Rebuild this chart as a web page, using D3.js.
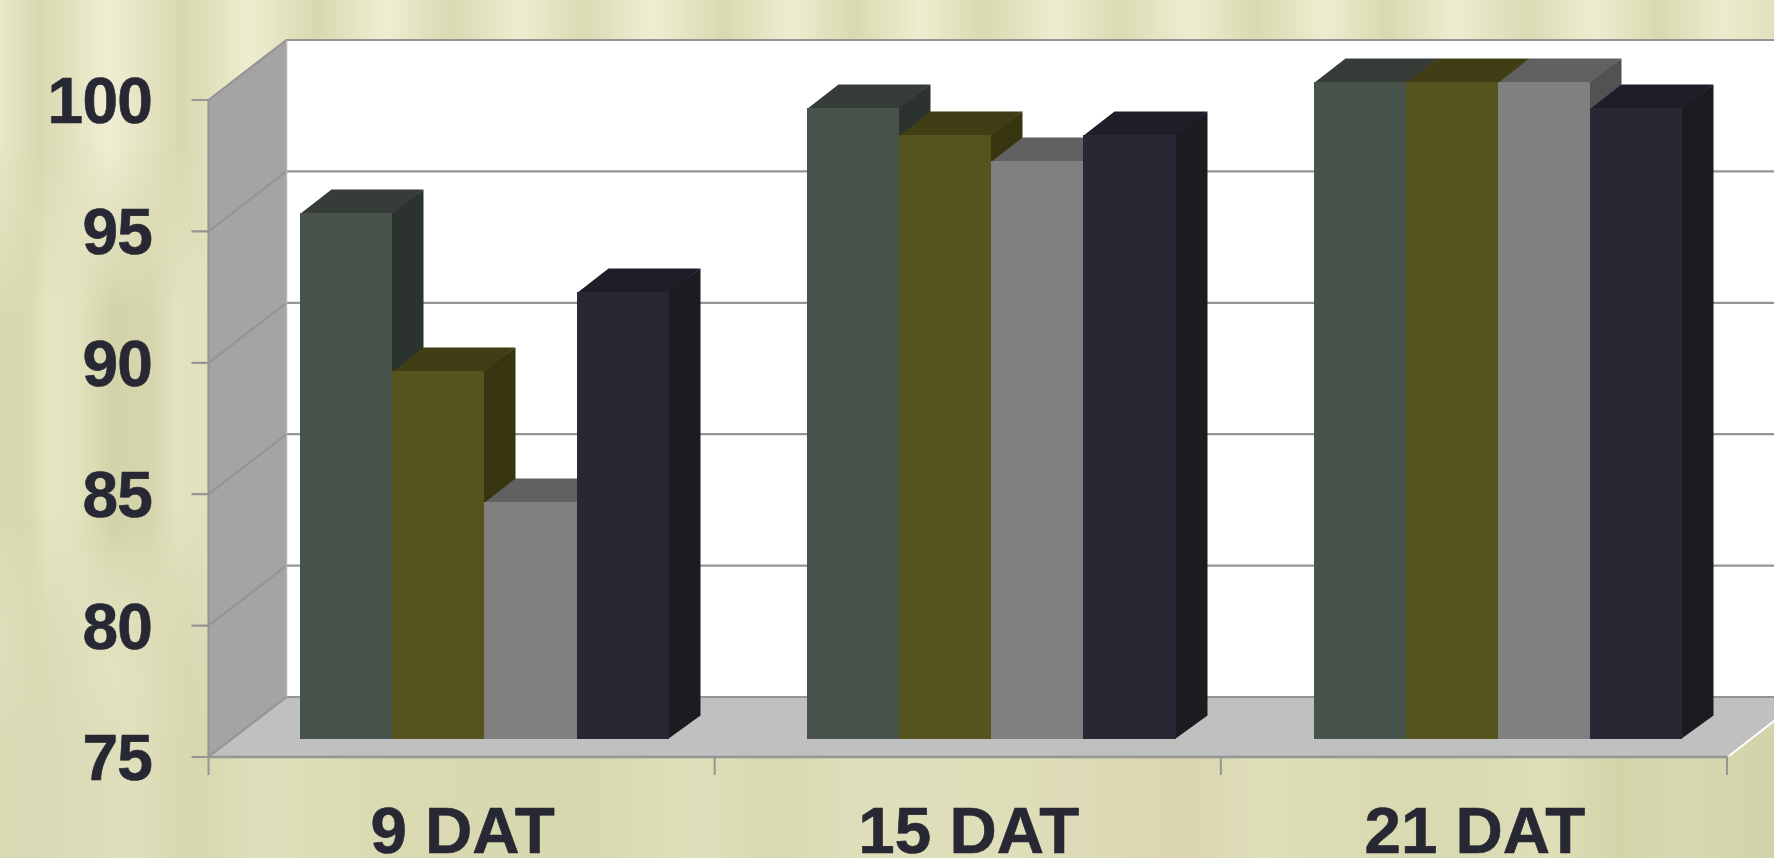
<!DOCTYPE html>
<html><head><meta charset="utf-8">
<script src="https://cdn.jsdelivr.net/npm/d3@7"></script>
<style>html,body{margin:0;padding:0;background:#e2e2bd;overflow:hidden}svg{display:block}</style>
</head><body><svg id="c" width="1774" height="858"></svg>
<script>
// Germination by days after transplanting, four treatments per date
const categories = ["9 DAT", "15 DAT", "21 DAT"];
const seriesA = [95, 99, 100];
const seriesB = [89, 98, 100];
const seriesC = [84, 97, 100];
const seriesD = [92, 98, 99];
const yTicks = [75, 80, 85, 90, 95, 100];

// Fabric-like backdrop: colour stops across the page (in pixels) at three heights
const clothTop = [[0,"#e8e8c8"],[40,"#d8d8b0"],[110,"#efeed3"],[181,"#d8d8b0"],[250,"#eeedcf"],[317,"#d8d8b0"],[385,"#efeed2"],[452,"#d9d9b2"],[520,"#eeedd0"],[583,"#dadab3"],[650,"#efeed3"],[724,"#d9d9b0"],[790,"#eeedd1"],[854,"#d9d9b0"],[920,"#eeedcf"],[984,"#d9d9b0"],[1055,"#eeedd1"],[1120,"#dadab3"],[1190,"#eeedd1"],[1256,"#d9d9b0"],[1325,"#eeedd1"],[1386,"#d9d9b0"],[1455,"#eeedd1"],[1528,"#dadab3"],[1595,"#eeedd1"],[1658,"#d9d9b0"],[1720,"#ecebcd"],[1774,"#e2e2c0"]];
const clothMid = [[0,"#d9d9b1"],[30,"#d9d9b1"],[48,"#e5e5c2"],[75,"#e3e3bf"],[112,"#d3d3aa"],[150,"#d6d6ad"],[178,"#e2e2c0"],[205,"#e0e0bb"],[1774,"#e2e2bc"]];
const clothBottom = [[0,"#d9d9b4"],[60,"#dadab6"],[130,"#dfdfbc"],[195,"#d6d6af"],[260,"#dfdfbb"],[370,"#dadab3"],[460,"#d8d8b1"],[590,"#d8d8b0"],[700,"#dfdfbb"],[770,"#d8d8b1"],[860,"#dedeba"],[1010,"#dedeb9"],[1190,"#dbd6b2"],[1260,"#dedeb9"],[1400,"#d9d9b2"],[1482,"#dadab3"],[1550,"#dedeb8"],[1620,"#d4d4a9"],[1680,"#d8d8b0"],[1774,"#d3d3a9"]];

const seriesList = [seriesA, seriesB, seriesC, seriesD];
const palette = [
  {front:"#47534b", top:"#363d38", side:"#2c332e"},
  {front:"#55531e", top:"#413e15", side:"#37350f"},
  {front:"#808080", top:"#616161", side:"#525252"},
  {front:"#282834", top:"#1e1e28", side:"#1b1b20"}
];
const ink = "#282834", rule = "#959595";

const W = 1774, H = 858;
const svg = d3.select("#c");
const defs = svg.append("defs");

function cloth(id, stops) {
  const g = defs.append("linearGradient").attr("id", id).attr("gradientUnits", "userSpaceOnUse")
    .attr("x1", 0).attr("x2", W).attr("y1", 0).attr("y2", 0);
  stops.forEach(([p, c]) => g.append("stop").attr("offset", p / W).attr("stop-color", c));
}
cloth("clothTop", clothTop); cloth("clothMid", clothMid); cloth("clothBottom", clothBottom);
const fade = (id, stops) => {
  const g = defs.append("linearGradient").attr("id", id).attr("x2", 0).attr("y2", 1);
  stops.forEach(([o, a]) => g.append("stop").attr("offset", o).attr("stop-color", "#fff").attr("stop-opacity", a));
  defs.append("mask").attr("id", id + "M").attr("maskUnits", "userSpaceOnUse")
    .attr("x", 0).attr("y", 0).attr("width", W).attr("height", H)
    .append("rect").attr("width", W).attr("height", H).attr("fill", `url(#${id})`);
};
fade("midFade", [[0,0],[.17,0],[.36,1],[.62,1],[.8,0]]);
fade("botFade", [[0,0],[.6,0],[.86,1],[1,1]]);
svg.append("rect").attr("width", W).attr("height", H).attr("fill", "url(#clothTop)");
svg.append("rect").attr("width", W).attr("height", H).attr("fill", "url(#clothMid)").attr("mask", "url(#midFadeM)");
svg.append("rect").attr("width", W).attr("height", H).attr("fill", "url(#clothBottom)").attr("mask", "url(#botFadeM)");

// Chart frame: front plane plus the oblique offset of the back wall
const x0 = 208.5, x1 = 1727;
const y = d3.scaleLinear().domain([75, 100]).range([757, 100]);
const band = d3.scaleBand().domain(categories).range([x0, x1]);
const depthX = 78, depthY = 60;          // wall offset
const barShiftX = 23.4, barShiftY = 18;  // bars stand part way into the floor
const barDepthX = 31.5, barDepthY = 23.5;
const barW = 92.2, barPad = (band.bandwidth() - barW * 4) / 2;
const poly = pts => pts.map(p => p.join(",")).join(" ");

const plot = svg.append("g");
// back wall
plot.append("rect").attr("x", x0 + depthX).attr("y", y(100) - depthY).attr("width", W).attr("height", y(75) - y(100)).attr("fill", "#fff");
// left wall
plot.append("polygon").attr("fill", "#a4a4a4")
  .attr("points", poly([[x0, y(75)], [x0, y(100)], [x0 + depthX, y(100) - depthY], [x0 + depthX, y(75) - depthY]]));
// floor
plot.append("polygon").attr("fill", "#c0c0c0")
  .attr("points", poly([[x0, y(75)], [x1, y(75)], [x1 + depthX, y(75) - depthY], [x0 + depthX, y(75) - depthY]]));
// gridlines on both walls
plot.selectAll("path.grid").data(yTicks).join("path").attr("class", "grid")
  .attr("fill", "none").attr("stroke", rule).attr("stroke-width", 2.2)
  .attr("d", v => `M${x0 - 17},${y(v)}H${x0}L${x0 + depthX},${y(v) - depthY}H${W + 5}`);
// wall and floor edges
plot.append("path").attr("fill", "none").attr("stroke", rule).attr("stroke-width", 2.2)
  .attr("d", `M${x0},${y(100)}V${y(75)}`);
plot.append("path").attr("fill", "none").attr("stroke", "#b4b4b4").attr("stroke-width", 1.5)
  .attr("d", `M${x0 + depthX},${y(100) - depthY}V${y(75) - depthY}`);
plot.append("path").attr("fill", "none").attr("stroke", rule).attr("stroke-width", 2.5)
  .attr("d", `M${x0},${y(75)}H${x1}`);
plot.append("path").attr("fill", "none").attr("stroke", "#fff").attr("stroke-width", 2)
  .attr("d", `M${x1 + 2},${y(75) - 1}L${x1 + depthX},${y(75) - depthY}`);
// category ticks
plot.selectAll("path.xt").data([0, 1, 2, 3]).join("path").attr("class", "xt")
  .attr("stroke", rule).attr("stroke-width", 2)
  .attr("d", i => `M${x0 + i * band.bandwidth()},${y(75)}v18`);

// Bars, painted left to right so each side face is overlapped by its neighbour
categories.forEach((cat, ci) => {
  const g = plot.append("g");
  seriesList.forEach((vals, si) => {
    const v = vals[ci], c = palette[si];
    const l = Math.round(band(cat) + barPad + barShiftX + (ci - 1) * 0.6 + si * barW);
    const r = Math.round(band(cat) + barPad + barShiftX + (ci - 1) * 0.6 + (si + 1) * barW);
    const t = Math.round(y(v) - barShiftY), b = Math.round(y(75) - barShiftY);
    const dx = barDepthX, dy = barDepthY;
    const bar = g.append("g");
    bar.append("polygon").attr("fill", c.side).attr("points", poly([[r - 1, t], [r + dx, t - dy], [r + dx, b - dy], [r - 1, b]]));
    bar.append("polygon").attr("fill", c.top).attr("points", poly([[l, t + 1], [l + dx, t - dy], [r + dx, t - dy], [r, t + 1]]));
    bar.append("rect").attr("x", l).attr("y", t).attr("width", r - l).attr("height", b - t)
      .attr("fill", c.front).attr("shape-rendering", "crispEdges");
  });
});

// Axis labels
svg.selectAll("text.yl").data(yTicks).join("text").attr("class", "yl")
  .attr("x", 152).attr("y", v => y(v) + 23).attr("text-anchor", "end")
  .attr("font-family", "'Liberation Sans'").attr("font-weight", 700).attr("font-size", 64)
  .attr("letter-spacing", -0.8).attr("fill", ink).attr("stroke", ink).attr("stroke-width", 0.6)
  .text(d => d);
svg.selectAll("text.xl").data(categories).join("text").attr("class", "xl")
  .attr("x", d => band(d) + band.bandwidth() / 2 + 1).attr("y", 853).attr("text-anchor", "middle")
  .attr("font-family", "'Liberation Sans'").attr("font-weight", 700).attr("font-size", 65.5)
  .attr("fill", ink).attr("stroke", ink).attr("stroke-width", 0.6)
  .text(d => d);
</script></body></html>
